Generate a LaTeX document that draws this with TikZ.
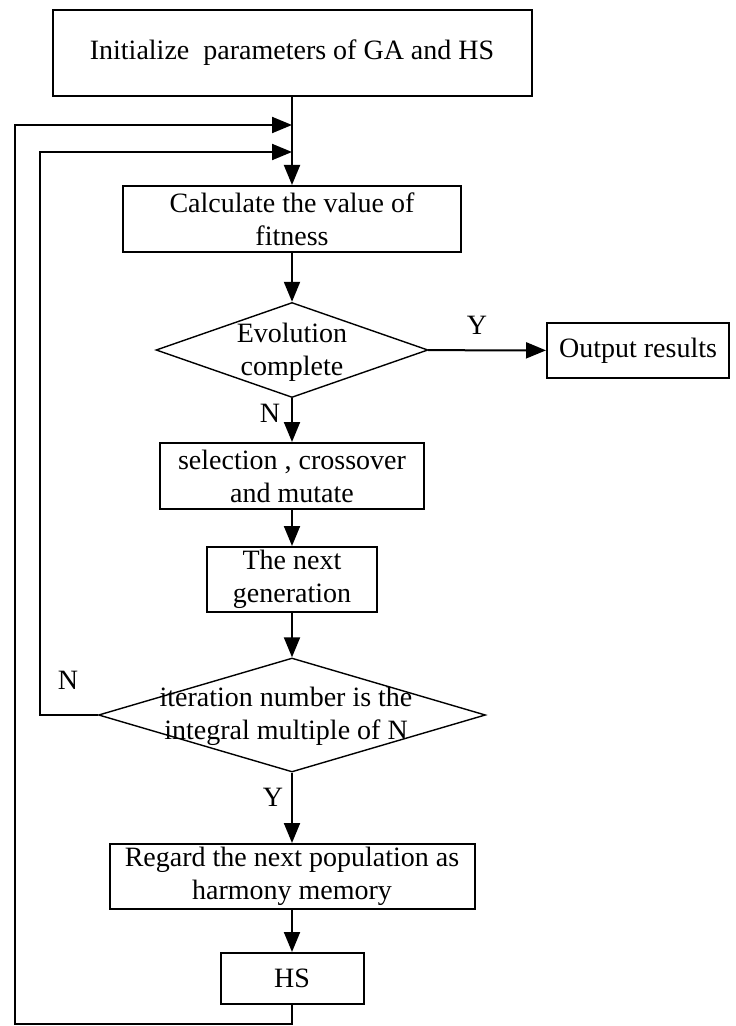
\documentclass[tikz,border=0pt]{standalone}
\usepackage{fontspec}
\setmainfont{Liberation Serif}
\usetikzlibrary{shapes.geometric,arrows.meta}
\begin{document}
\begin{tikzpicture}[x=0.5pt,y=-0.5pt,
  font=\fontsize{14}{16.5}\selectfont,
  box/.style={draw,line width=1pt,inner sep=0pt,align=center},
  decide/.style={draw,diamond,line width=0.7pt,inner sep=0pt},
  >={Triangle[length=10pt,width=8pt]}]
  \useasboundingbox (0,0) rectangle (735,1026);
  \node[box,minimum width=239.5pt,minimum height=43pt] (init) at (292,53) {Initialize~~parameters of GA and HS};
  \node[box,minimum width=169pt,minimum height=33pt] (calc) at (292,219) {Calculate the value of\\fitness};
  \node[decide,minimum width=136pt,minimum height=47.5pt] (evo) at (292,350) {};
  \node[align=center] (evotext) at (292,352) {Evolution\\complete};
  \node[box,minimum width=91pt,minimum height=27.5pt] (out) at (638,350.5) {Output results};
  \node[box,minimum width=132pt,minimum height=33pt] (sel) at (292,476) {selection , crossover\\and mutate};
  \node[box,minimum width=85pt,minimum height=32.5pt] (next) at (292,579.5) {The next\\generation};
  \node[decide,minimum width=193.5pt,minimum height=57pt] (iter) at (292,715) {};
  \node[align=center] (itertext) at (286,716) {iteration number is the\\integral multiple of N};
  \node[box,minimum width=182.5pt,minimum height=32.5pt] (regard) at (292,876.5) {Regard the next population as\\harmony memory};
  \node[box,minimum width=71.5pt,minimum height=25.5pt] (hs) at (292,978.5) {HS};
  \coordinate (joinA) at (292,125);
  \coordinate (joinB) at (292,152);
  \draw[->,line width=1pt] (init) -- (calc);
  \draw[->,line width=1pt] (calc) -- (evo);
  \draw[->,line width=1pt] (evo) -- (out);
  \draw[->,line width=1pt] (evo) -- (sel);
  \draw[->,line width=1pt] (sel) -- (next);
  \draw[->,line width=1pt] (next) -- (iter);
  \draw[->,line width=1pt] (iter) -- (regard);
  \draw[->,line width=1pt] (regard) -- (hs);
  \draw[->,line width=1pt] (iter.west) -- ++(-58,0) |- (joinB);
  \draw[->,line width=1pt] (hs.south) |- (15,1024) |- (joinA);
  \node (ylab1) at (477,325) {Y};
  \node (nlab1) at (270,413) {N};
  \node (nlab2) at (68,680) {N};
  \node (ylab2) at (273,797) {Y};
\end{tikzpicture}
\end{document}
